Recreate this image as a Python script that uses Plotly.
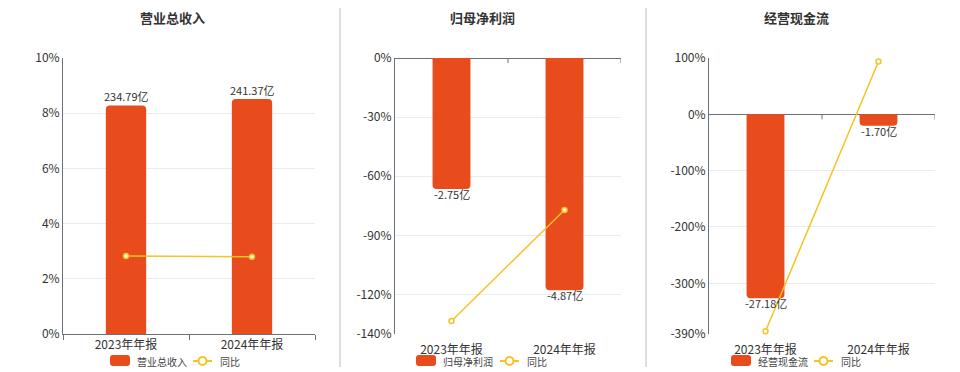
import plotly.graph_objects as go

# ---------------- data ----------------
categories = ["2023年年报", "2024年年报"]

titles = ["营业总收入", "归母净利润", "经营现金流"]

revenue = [234.79, 241.37]          # 亿
revenue_yoy = [2.83, 2.80]          # %

net_profit = [-2.75, -4.87]         # 亿
net_profit_yoy = [-133.4, -77.1]    # %

cash_flow = [-27.18, -1.70]         # 亿
cash_flow_yoy = [-385.0, 93.75]     # %

pct_ticks_1 = [0, 2, 4, 6, 8, 10]
pct_ticks_2 = [0, -30, -60, -90, -120, -140]
pct_ticks_3 = [100, 0, -100, -200, -300, -390]

# ---------------- style ----------------
W, H = 960, 372
FONT = "Noto Sans CJK SC"
BAR = "#E84B1C"
LINE = "#F5C323"
AXIS = "#6E7079"
GRID = "#E6EBF4"
TXT = "#333333"


def px_x(p):
    return p / W


def px_y(p):
    return 1 - p / H


ydom = [px_y(334), px_y(58)]

panels = [
    dict(vals=revenue, yoy=revenue_yoy, ticks=pct_ticks_1, prange=[0, 10],
         brange=[0, 283.5], dom=[63, 315], bw=0.32, title_x=172, zero_edge=True,
         leg=(110, 135, 193, 218)),
    dict(vals=net_profit, yoy=net_profit_yoy, ticks=pct_ticks_2, prange=[-140, 0],
         brange=[-5.79, 0], dom=[395, 621], bw=0.335, title_x=482, zero_edge=False,
         leg=(416, 441, 500, 525)),
    dict(vals=cash_flow, yoy=cash_flow_yoy, ticks=pct_ticks_3, prange=[-390, 100],
         brange=[-390 * 0.0832, 100 * 0.0832], dom=[709, 935], bw=0.335, title_x=796,
         zero_edge=False, leg=(731, 756, 814, 839)),
]

fig = go.Figure()
layout = dict(
    width=W, height=H, margin=dict(l=0, r=0, t=0, b=0, pad=0, autoexpand=False),
    paper_bgcolor="white", plot_bgcolor="white",
    showlegend=False, barcornerradius=4,
    font=dict(family=FONT, size=12, color=TXT),
)
shapes = []
annotations = []

for i, p in enumerate(panels):
    n = i + 1
    xa = "x" if n == 1 else f"x{n}"
    yb_idx = 2 * n - 1
    yl_idx = 2 * n
    yb = "y" if yb_idx == 1 else f"y{yb_idx}"
    yl = f"y{yl_idx}"

    fig.add_trace(go.Bar(
        x=categories, y=p["vals"], xaxis=xa, yaxis=yb,
        marker=dict(color=BAR, line=dict(width=0)), width=p["bw"],
        hoverinfo="skip",
    ))
    fig.add_trace(go.Scatter(
        x=categories, y=p["yoy"], xaxis=xa, yaxis=yl, mode="lines+markers",
        line=dict(color=LINE, width=1.5),
        marker=dict(symbol="circle", size=5, color="white",
                    line=dict(color=LINE, width=1.5)),
        hoverinfo="skip", cliponaxis=False,
    ))

    xkey = "xaxis" if n == 1 else f"xaxis{n}"
    ybkey = "yaxis" if yb_idx == 1 else f"yaxis{yb_idx}"
    ylkey = f"yaxis{yl_idx}"

    xa_cfg = dict(
        domain=[px_x(p["dom"][0]), px_x(p["dom"][1])], anchor=yb,
        type="category", categoryarray=categories, range=[-0.5, 1.5],
        showgrid=False, zeroline=False, fixedrange=True, automargin=False,
        tickfont=dict(size=12, color=TXT),
    )
    if p["zero_edge"]:
        xa_cfg.update(showline=True, linecolor=AXIS, linewidth=1,
                      ticks="outside", tickson="boundaries", ticklen=5,
                      tickcolor=AXIS)
    else:
        xa_cfg.update(showline=False, ticks="outside", ticklen=5,
                      tickcolor="rgba(0,0,0,0)")
    layout[xkey] = xa_cfg

    layout[ybkey] = dict(
        domain=ydom, anchor=xa, range=p["brange"], visible=False,
        showgrid=False, zeroline=False, fixedrange=True, automargin=False,
    )
    layout[ylkey] = dict(
        overlaying=yb, anchor=xa, side="left", range=p["prange"],
        tickvals=p["ticks"], ticktext=[f"{t}%" for t in p["ticks"]],
        showgrid=True, gridcolor=GRID, gridwidth=1,
        showline=True, linecolor=AXIS, linewidth=1,
        zeroline=not p["zero_edge"], zerolinecolor=AXIS, zerolinewidth=1,
        ticks="", tickfont=dict(size=12, color=TXT), fixedrange=True,
        automargin=False,
    )

    # small tick marks on the zero line (category boundaries)
    if not p["zero_edge"]:
        for bx in [0.5, 1.5]:
            shapes.append(dict(
                type="line", xref=xa, yref=yl, ysizemode="pixel", yanchor=0,
                x0=bx, x1=bx, y0=0, y1=-5,
                line=dict(color=AXIS, width=1),
            ))

    # bar value labels
    for c, v in zip(categories, p["vals"]):
        annotations.append(dict(
            xref=xa, yref=yb, x=c, y=v, text=f"{v:.2f}亿", showarrow=False,
            yanchor="middle", yshift=9 if v >= 0 else -5,
            font=dict(size=11, color=TXT),
        ))

    # title
    annotations.append(dict(
        xref="paper", yref="paper", x=px_x(p["title_x"]), y=px_y(18),
        text=f"<b>{titles[i]}</b>", showarrow=False, xanchor="center",
        yanchor="middle", font=dict(size=13, color=TXT),
    ))

    # legend
    rx, tx, lx, t2x = p["leg"]
    y0, y1 = 355, 366
    r = 3
    path = (
        f"M {px_x(rx + r)} {px_y(y0)} L {px_x(rx + 20 - r)} {px_y(y0)} "
        f"Q {px_x(rx + 20)} {px_y(y0)} {px_x(rx + 20)} {px_y(y0 + r)} "
        f"L {px_x(rx + 20)} {px_y(y1 - r)} "
        f"Q {px_x(rx + 20)} {px_y(y1)} {px_x(rx + 20 - r)} {px_y(y1)} "
        f"L {px_x(rx + r)} {px_y(y1)} "
        f"Q {px_x(rx)} {px_y(y1)} {px_x(rx)} {px_y(y1 - r)} "
        f"L {px_x(rx)} {px_y(y0 + r)} "
        f"Q {px_x(rx)} {px_y(y0)} {px_x(rx + r)} {px_y(y0)} Z"
    )
    shapes.append(dict(type="path", xref="paper", yref="paper", path=path,
                       fillcolor=BAR, line=dict(width=0)))
    annotations.append(dict(
        xref="paper", yref="paper", x=px_x(tx), y=px_y(361), text=titles[i],
        showarrow=False, xanchor="left", yanchor="middle",
        font=dict(size=10, color="#444"),
    ))
    shapes.append(dict(type="line", xref="paper", yref="paper",
                       x0=px_x(lx), x1=px_x(lx + 19), y0=px_y(361), y1=px_y(361),
                       line=dict(color=LINE, width=2)))
    cx = lx + 9.5
    shapes.append(dict(type="circle", xref="paper", yref="paper",
                       x0=px_x(cx - 4), x1=px_x(cx + 4), y0=px_y(357), y1=px_y(365),
                       fillcolor="white", line=dict(color=LINE, width=2)))
    annotations.append(dict(
        xref="paper", yref="paper", x=px_x(t2x), y=px_y(361), text="同比",
        showarrow=False, xanchor="left", yanchor="middle",
        font=dict(size=10, color="#444"),
    ))

# separators between panels
for sx in [340, 646]:
    shapes.append(dict(type="line", xref="paper", yref="paper",
                       x0=px_x(sx), x1=px_x(sx), y0=px_y(8), y1=px_y(367),
                       line=dict(color="#DDDDDD", width=2)))

layout["shapes"] = shapes
layout["annotations"] = annotations
fig.update_layout(**layout)

fig.write_html(
    "out.html",
    config={"displayModeBar": False, "responsive": False},
    post_script="document.body.style.margin='0';document.body.style.overflow='hidden';",
)
